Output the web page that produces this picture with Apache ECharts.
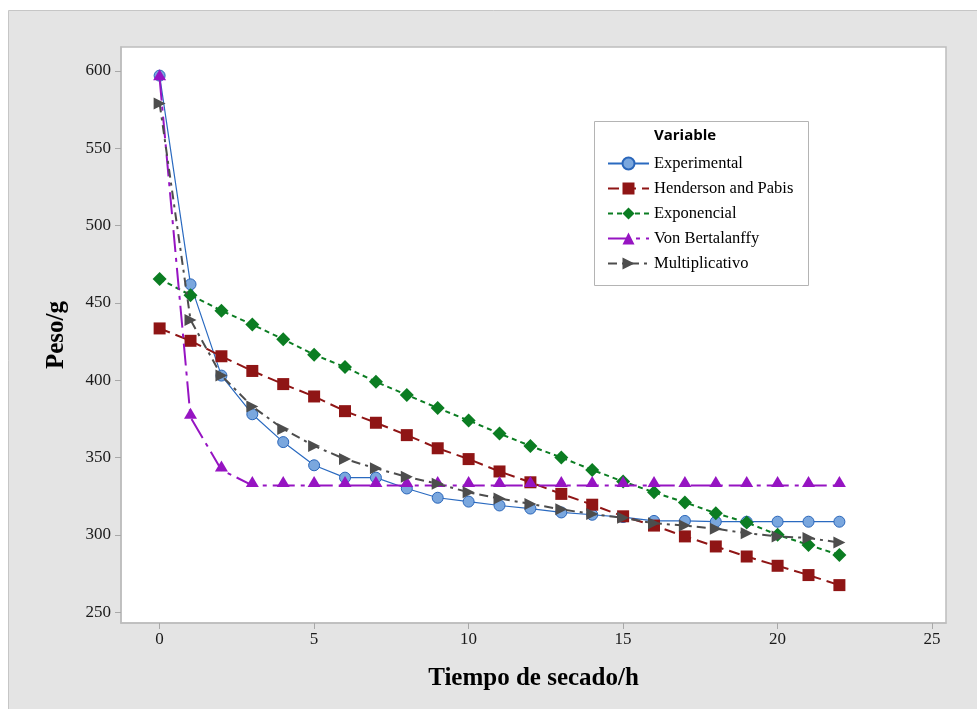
<!DOCTYPE html>
<html>
<head>
<meta charset="utf-8">
<script src="https://cdn.jsdelivr.net/npm/echarts@6/dist/echarts.min.js"></script>
<style>
  html, body { margin: 0; padding: 0; background: #ffffff; }
  #chart { width: 977px; height: 709px; }
</style>
</head>
<body>
<div id="chart"></div>
<script>
// Drying time (h) and weight (g): measured values and fitted models
const tiempo = [0, 1, 2, 3, 4, 5, 6, 7, 8, 9, 10, 11, 12, 13, 14, 15, 16, 17, 18, 19, 20, 21, 22];

const experimental = [597, 462, 403, 378, 360, 345, 337, 337, 330, 324, 321.5, 319, 317, 314.5, 313, 311.5, 309, 309, 308.5, 308.5, 308.5, 308.5, 308.5];
const hendersonPabis = [433.5, 425.5, 415.5, 406, 397.5, 389.5, 380, 372.5, 364.5, 356, 349, 341, 334, 326.5, 319.5, 312, 306, 299, 292.5, 286, 280, 274, 267.5];
const exponencial = [465.5, 455, 445, 436, 426.5, 416.5, 408.5, 399, 390.5, 382, 374, 365.5, 357.5, 350, 342, 334.5, 327.5, 321, 314, 308, 300, 293.5, 287];
const vonBertalanffy = [595, 376, 342, 332, 332, 332, 332, 332, 332, 332, 332, 332, 332, 332, 332, 332, 332, 332, 332, 332, 332, 332, 332];
const multiplicativo = [579, 439, 403, 383, 368.5, 357.5, 349, 343, 337.5, 333, 327.5, 323.5, 320, 316.5, 313.5, 311, 307.5, 306, 304, 301, 299, 298, 295];

const xTicks = [0, 5, 10, 15, 20, 25];
const yTicks = [250, 300, 350, 400, 450, 500, 550, 600];

const serif = '"Liberation Serif", "Times New Roman", serif';

function pairs(values) {
  return tiempo.map((t, i) => [t, values[i]]);
}

const chart = echarts.init(document.getElementById('chart'), null, { renderer: 'canvas' });

chart.setOption({
  backgroundColor: '#ffffff',
  animation: false,
  graphic: [
    {
      type: 'rect', z: -10, silent: true,
      shape: { x: 8.5, y: 10.5, width: 1000, height: 720 },
      style: { fill: '#e4e4e4', stroke: '#c6c6c6', lineWidth: 1 }
    },
    {
      type: 'rect', z: 50, silent: true,
      shape: { x: 594.5, y: 121.5, width: 214, height: 164 },
      style: { fill: '#ffffff', stroke: '#b4b4b4', lineWidth: 1 }
    },
    {
      type: 'text', z: 51, silent: true,
      left: 654, top: 128,
      style: { text: 'Variable', font: 'bold 15px "Open Sans", "Liberation Sans", sans-serif', fill: '#000000' }
    }
  ],
  legend: {
    orient: 'vertical',
    left: 602,
    top: 150,
    z: 60,
    itemWidth: 41,
    itemHeight: 15,
    itemGap: 8,
    textStyle: { fontFamily: serif, fontSize: 16.5, color: '#000000', padding: [0, 0, 0, 0] },
    data: ['Experimental', 'Henderson and Pabis', 'Exponencial', 'Von Bertalanffy', 'Multiplicativo']
  },
  grid: {
    left: 121, top: 47, right: 31, bottom: 86,
    show: true,
    backgroundColor: '#ffffff',
    borderColor: '#bdbdbd',
    borderWidth: 1.5
  },
  xAxis: {
    type: 'value',
    min: -1.25,
    max: 25.45,
    name: 'Tiempo de secado/h',
    nameLocation: 'middle',
    nameGap: 43,
    nameTextStyle: { fontFamily: serif, fontSize: 25, fontWeight: 'bold', color: '#000000' },
    axisLine: { show: true, onZero: false, lineStyle: { color: '#bdbdbd', width: 1.5 } },
    axisTick: { show: true, length: 6, customValues: xTicks, lineStyle: { color: '#a8a8a8' } },
    axisLabel: { customValues: xTicks, margin: 8, fontFamily: serif, fontSize: 17, color: '#1a1a1a' },
    splitLine: { show: false }
  },
  yAxis: {
    type: 'value',
    min: 243,
    max: 615.5,
    name: 'Peso/g',
    nameLocation: 'middle',
    nameGap: 52,
    nameTextStyle: { fontFamily: serif, fontSize: 25, fontWeight: 'bold', color: '#000000' },
    axisLine: { show: true, onZero: false, lineStyle: { color: '#bdbdbd', width: 1.5 } },
    axisTick: { show: true, length: 6, customValues: yTicks, lineStyle: { color: '#a8a8a8' } },
    axisLabel: { customValues: yTicks, margin: 10, fontFamily: serif, fontSize: 17, color: '#1a1a1a' },
    splitLine: { show: false }
  },
  series: [
    {
      name: 'Experimental',
      type: 'line',
      data: pairs(experimental),
      symbol: 'circle',
      symbolSize: 11,
      itemStyle: { color: '#7aa7de', borderColor: '#2a66ba', borderWidth: 1 },
      lineStyle: { color: '#2a6ac0', width: 1.2, type: 'solid' },
      z: 2
    },
    {
      name: 'Henderson and Pabis',
      type: 'line',
      data: pairs(hendersonPabis),
      symbol: 'rect',
      symbolSize: 12,
      itemStyle: { color: '#8f1515' },
      lineStyle: { color: '#8f1515', width: 2, type: [11, 6] },
      z: 3
    },
    {
      name: 'Exponencial',
      type: 'line',
      data: pairs(exponencial),
      symbol: 'diamond',
      symbolSize: 14,
      itemStyle: { color: '#0b7d22' },
      lineStyle: { color: '#0b7d22', width: 2, type: [5, 4] },
      z: 4
    },
    {
      name: 'Von Bertalanffy',
      type: 'line',
      data: pairs(vonBertalanffy),
      symbol: 'triangle',
      symbolSize: [13, 11],
      symbolOffset: [0, -4],
      itemStyle: { color: '#9614c2' },
      lineStyle: { color: '#9614c2', width: 2, type: [22, 6, 4, 6] },
      z: 5
    },
    {
      name: 'Multiplicativo',
      type: 'line',
      data: pairs(multiplicativo),
      symbol: 'path://M0,0 L10,5 L0,10 Z',
      symbolSize: [12, 12],
      itemStyle: { color: '#4d4d4d' },
      lineStyle: { color: '#4d4d4d', width: 2, type: [9, 5, 3, 5] },
      z: 6
    }
  ]
});
</script>
</body>
</html>
